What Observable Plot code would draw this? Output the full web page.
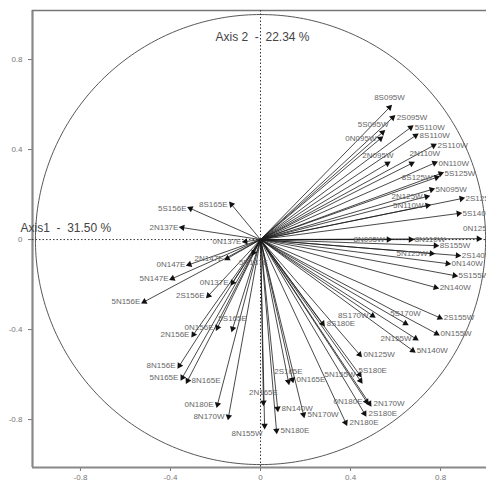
<!DOCTYPE html>
<html>
<head>
<meta charset="utf-8">
<script src="https://cdn.jsdelivr.net/npm/d3@7"></script>
<script src="https://cdn.jsdelivr.net/npm/@observablehq/plot@0.6"></script>
<style>
  html, body { margin: 0; padding: 0; background: #fff; }
  #chart { width: 486px; height: 483px; overflow: hidden; }
</style>
</head>
<body>
<div id="chart"></div>
<script>
// ---- data ----
const stations = [
  "5S156E","8S165E","2N137E","0N137E","2N147E","5N137E","0N147E","5N147E","0N137E","2S156E",
  "5N156E","0N156E","5S165E","2N156E","8N156E","5N165E","8N165E","0N180E","8N170W","8N155W",
  "2N165E","8N140W","5N180E","2S165E","0N165E","5N170W","2N180E","0N180E","2N170W","2S180E",
  "5N155W","5S180E","0N125W","8S180E","8S170W","5S170W","2N155W","5N140W","2S155W","0N155W",
  "2N140W","5S155W","0N140W","2S140W","5N125W","8S155W","8N095W","8N110W","0N125W","5S140W",
  "5N110W","2S125W","2N125W","5N095W","8S125W","5S125W","0N110W","2N110W","2S110W","8S110W",
  "5S110W","2N095W","0N095W","5S095W","2S095W","8S095W"
];
const pc1 = [
  -0.311,-0.129,-0.347,-0.067,-0.147,-0.031,-0.316,-0.391,-0.124,-0.231,
  -0.516,-0.191,-0.124,-0.298,-0.360,-0.347,-0.324,-0.191,-0.142, 0.018,
   0.013, 0.076, 0.071, 0.124, 0.142, 0.191, 0.378, 0.471, 0.484, 0.462,
   0.440, 0.444, 0.440, 0.276, 0.498, 0.644, 0.689, 0.676, 0.796, 0.782,
   0.778, 0.862, 0.831, 0.876, 0.760, 0.778, 0.569, 0.667, 0.969, 0.880,
   0.742, 0.893, 0.738, 0.760, 0.782, 0.800, 0.773, 0.671, 0.769, 0.689,
   0.667, 0.564, 0.533, 0.542, 0.587, 0.573
];
const pc2 = [
   0.138, 0.156, 0.053,-0.009,-0.084,-0.058,-0.111,-0.173,-0.191,-0.249,
  -0.276,-0.391,-0.396,-0.422,-0.560,-0.613,-0.627,-0.733,-0.787,-0.827,
  -0.724,-0.751,-0.849,-0.631,-0.622,-0.778,-0.813,-0.720,-0.729,-0.773,
  -0.600,-0.627,-0.511,-0.373,-0.338,-0.373,-0.440,-0.493,-0.347,-0.418,
  -0.213,-0.160,-0.107,-0.071,-0.062,-0.027, 0.000, 0.000, 0.004, 0.116,
   0.151, 0.182, 0.191, 0.222, 0.276, 0.293, 0.340, 0.338, 0.418, 0.462,
   0.498, 0.338, 0.449, 0.476, 0.542, 0.587
];
// which side of the arrow tip each label sits on
const labelSide = [
  "L","L","L","L","L","B","L","L","L","L",
  "L","L","T","L","L","L","R","L","L","BL",
  "T","R","R","T","R","R","R","L","R","R",
  "L","TR","R","R","L","T","L","R","R","R",
  "R","R","R","R","L","R","L","R","T","R",
  "L","R","L","R","L","R","R","TR","R","R",
  "R","TL","L","TL","R","T"
];
const xTicks = [-0.8, -0.4, 0, 0.4, 0.8];
const yTicks = [-0.8, -0.4, 0, 0.4, 0.8];
const xDomain = [-1.013, 1.004];
const yDomain = [-1.013, 1.018];
const axis1Label = "Axis1  -  31.50 %";
const axis2Label = "Axis 2  -  22.34 %";

// ---- build ----
const data = stations.map((s, i) => ({ s, x: pc1[i], y: pc2[i], side: labelSide[i] }));
const unitCircle = d3.range(0, 361, 1).map(a => ({ cx: Math.cos(a * Math.PI / 180), cy: Math.sin(a * Math.PI / 180) }));

const labelStyle = { fontSize: 8, fill: "#666", fontFamily: "Liberation Sans, Arial, sans-serif" };
const side = k => data.filter(d => d.side === k);

const chart = Plot.plot({
  width: 486,
  height: 483,
  marginLeft: 32,
  marginRight: 0,
  marginTop: 10,
  marginBottom: 16,
  style: { background: "#fff", fontFamily: "Liberation Sans, Arial, sans-serif", fontSize: "8px", color: "#777", overflow: "visible" },
  x: { domain: xDomain, ticks: xTicks, tickFormat: d => String(d), tickSize: 4, tickPadding: 3, label: null },
  y: { domain: yDomain, ticks: yTicks, tickFormat: d => String(d), tickSize: 4, tickPadding: 6, label: null },
  marks: [
    // frame (left, bottom, top)
    Plot.ruleX([xDomain[0]], { stroke: "#888", strokeWidth: 2.2 }),
    Plot.ruleY([yDomain[0]], { stroke: "#888", strokeWidth: 2.2 }),
    Plot.ruleY([yDomain[1]], { stroke: "#777", strokeWidth: 1.5 }),
    // dotted axes through origin
    Plot.ruleY([0], { stroke: "#333", strokeDasharray: "1.5,2", strokeWidth: 1 }),
    Plot.ruleX([0], { stroke: "#333", strokeDasharray: "1.5,2", strokeWidth: 1 }),
    // correlation circle
    Plot.line(unitCircle, { x: "cx", y: "cy", stroke: "#444", strokeWidth: 0.9 }),
    // arrows
    Plot.link(data, { x1: 0, y1: 0, x2: "x", y2: "y", stroke: "#1a1a1a", strokeWidth: 0.8 }),
    Plot.dot(data, { x: "x", y: "y", symbol: "triangle", r: 2.4, fill: "#111", stroke: "none",
      rotate: d => Math.atan2(d.x, d.y) * 180 / Math.PI }),
    // labels
    Plot.text(side("L"), { x: "x", y: "y", text: "s", textAnchor: "end", dx: -4, ...labelStyle }),
    Plot.text(side("R"), { x: "x", y: "y", text: "s", textAnchor: "start", dx: 4, ...labelStyle }),
    Plot.text(side("T"), { x: "x", y: "y", text: "s", textAnchor: "middle", dy: -10, ...labelStyle }),
    Plot.text(side("B"), { x: "x", y: "y", text: "s", textAnchor: "middle", dy: 10, ...labelStyle }),
    Plot.text(side("TL"), { x: "x", y: "y", text: "s", textAnchor: "end", dx: 6, dy: -8, ...labelStyle }),
    Plot.text(side("TR"), { x: "x", y: "y", text: "s", textAnchor: "start", dx: -2, dy: -10, ...labelStyle }),
    Plot.text(side("BL"), { x: "x", y: "y", text: "s", textAnchor: "end", dx: -2, dy: 8, ...labelStyle }),
    // axis titles
    Plot.text([axis2Label], { frameAnchor: "top", text: d => d, dx: 3, dy: 22, fontSize: 12, fill: "#444", fontFamily: "Liberation Sans, Arial, sans-serif" }),
    Plot.text([axis1Label], { frameAnchor: "left", text: d => d, textAnchor: "start", dx: -12, dy: -11, fontSize: 12, fill: "#444", fontFamily: "Liberation Sans, Arial, sans-serif" })
  ]
});
document.getElementById("chart").appendChild(chart);
</script>
</body>
</html>
